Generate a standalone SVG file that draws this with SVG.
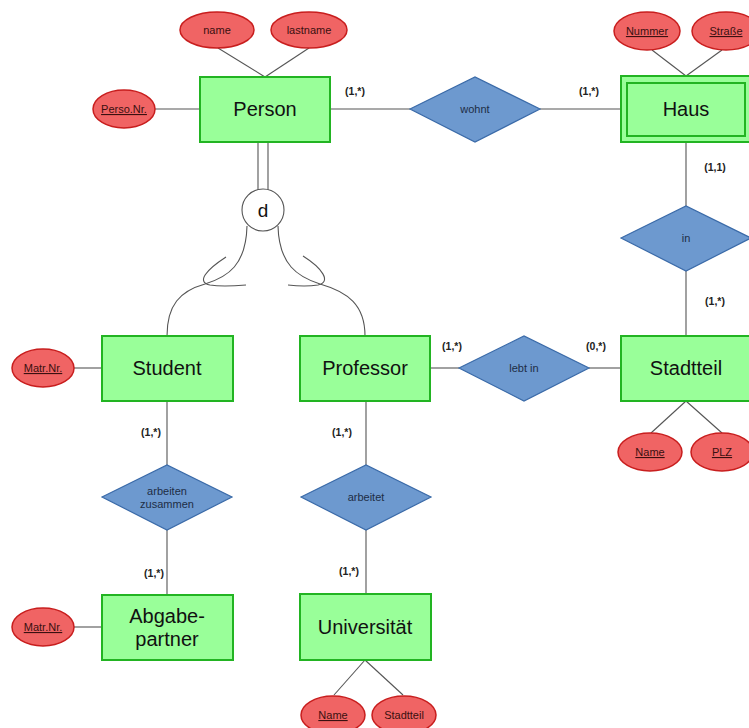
<svg xmlns="http://www.w3.org/2000/svg" width="749" height="728" viewBox="0 0 749 728">
<style>
.ent{fill:#99ff99;stroke:#22b422;stroke-width:2}
.att{fill:#f06464;stroke:#c81e1e;stroke-width:1.5}
.rel{fill:#6d99cf;stroke:#3a6aa8;stroke-width:1.2}
.ln{stroke:#555;stroke-width:1.1;fill:none}
.et{font-family:"Liberation Sans",Arial,sans-serif;font-size:20px;fill:#111;text-anchor:middle}
.at{font-family:"Liberation Sans",Arial,sans-serif;font-size:11px;fill:#3a1010;text-anchor:middle}
.u{text-decoration:underline}
.rt{font-family:"Liberation Sans",Arial,sans-serif;font-size:11px;fill:#1d2d45;text-anchor:middle}
.card{font-family:"Liberation Sans",Arial,sans-serif;font-size:10.5px;font-weight:bold;fill:#222;text-anchor:middle}
</style>
<rect width="749" height="728" fill="#fff"/>
<g id="connectors">
<line class="ln" x1="218" y1="48" x2="265" y2="77"/>
<line class="ln" x1="309" y1="48" x2="265" y2="77"/>
<line class="ln" x1="155" y1="109" x2="200" y2="109"/>
<line class="ln" x1="330" y1="109" x2="410" y2="109"/>
<line class="ln" x1="540" y1="109" x2="621" y2="109"/>
<line class="ln" x1="652" y1="50" x2="686" y2="76"/>
<line class="ln" x1="722" y1="50" x2="686" y2="76"/>
<line class="ln" x1="686" y1="142" x2="686" y2="206"/>
<line class="ln" x1="686" y1="271" x2="686" y2="336"/>
<line class="ln" x1="686" y1="401" x2="651" y2="433"/>
<line class="ln" x1="686" y1="401" x2="722" y2="433"/>
<line class="ln" x1="430" y1="368" x2="459" y2="368"/>
<line class="ln" x1="589" y1="368" x2="621" y2="368"/>
<line class="ln" x1="74" y1="368" x2="102" y2="368"/>
<line class="ln" x1="167" y1="401" x2="167" y2="465"/>
<line class="ln" x1="167" y1="530" x2="167" y2="595"/>
<line class="ln" x1="74" y1="627" x2="102" y2="627"/>
<line class="ln" x1="366" y1="401" x2="366" y2="465"/>
<line class="ln" x1="366" y1="530" x2="366" y2="594"/>
<line class="ln" x1="365" y1="660" x2="334" y2="695"/>
<line class="ln" x1="365" y1="660" x2="403" y2="695"/>
<line class="ln" x1="258" y1="142" x2="258" y2="191"/>
<line class="ln" x1="268" y1="142" x2="268" y2="191"/>
<path class="ln" d="M247,226 C246,265 228,277 205,284 C180,291 167,305 167,336"/>
<path class="ln" d="M278,226 C279,265 298,277 320,284 C348,292 365,305 365,336"/>
<path class="ln" d="M226,257 C206,270 196,282 210,285 C222,287 234,286 246,285"/>
<path class="ln" d="M303,256 C322,268 332,282 318,285 C306,287 296,286 288,285"/>
</g>
<g id="person"><rect class="ent" x="200" y="77" width="130" height="65"/><text class="et" x="265" y="116">Person</text></g>
<g id="attr-name"><ellipse class="att" cx="217" cy="30" rx="37" ry="18"/><text class="at" x="217" y="34">name</text></g>
<g id="attr-lastname"><ellipse class="att" cx="309" cy="30" rx="38" ry="18"/><text class="at" x="309" y="34">lastname</text></g>
<g id="attr-persnr"><ellipse class="att" cx="124" cy="109" rx="31" ry="19"/><text class="at u" x="124" y="113">Perso.Nr.</text></g>
<g id="card-1"><text class="card" x="355" y="95">(1,*)</text></g>
<g id="wohnt"><polygon class="rel" points="410,109 475,77 540,109 475,142"/><text class="rt" x="475" y="113">wohnt</text></g>
<g id="card-2"><text class="card" x="589" y="95">(1,*)</text></g>
<g id="haus"><rect class="ent" x="621" y="76" width="130" height="66"/><rect class="ent" x="627" y="83" width="118" height="53"/><text class="et" x="686" y="116">Haus</text></g>
<g id="attr-nummer"><ellipse class="att" cx="647" cy="31" rx="33" ry="19"/><text class="at u" x="647" y="35">Nummer</text></g>
<g id="attr-strasse"><ellipse class="att" cx="726" cy="31" rx="34" ry="19"/><text class="at u" x="726" y="35">Straße</text></g>
<g id="card-3"><text class="card" x="715" y="171">(1,1)</text></g>
<g id="in"><polygon class="rel" points="621,238 686,206 751,238 686,271"/><text class="rt" x="686" y="242">in</text></g>
<g id="card-4"><text class="card" x="715" y="305">(1,*)</text></g>
<g id="stadtteil"><rect class="ent" x="621" y="336" width="130" height="65"/><text class="et" x="686" y="375">Stadtteil</text></g>
<g id="attr-st-name"><ellipse class="att" cx="650" cy="452" rx="32" ry="19"/><text class="at u" x="650" y="456">Name</text></g>
<g id="attr-plz"><ellipse class="att" cx="722" cy="452" rx="31" ry="19"/><text class="at u" x="722" y="456">PLZ</text></g>
<g id="lebtin"><polygon class="rel" points="459,368 524,336 589,368 524,401"/><text class="rt" x="524" y="372">lebt in</text></g>
<g id="card-5"><text class="card" x="452" y="350">(1,*)</text></g>
<g id="card-6"><text class="card" x="596" y="350">(0,*)</text></g>
<g id="d"><circle cx="263" cy="210" r="21" fill="#fff" stroke="#555" stroke-width="1.1"/><text class="et" x="263" y="217" style="font-size:19px">d</text></g>
<g id="student"><rect class="ent" x="102" y="336" width="131" height="65"/><text class="et" x="167" y="375">Student</text></g>
<g id="attr-matr1"><ellipse class="att" cx="43" cy="368" rx="31" ry="19"/><text class="at u" x="43" y="372">Matr.Nr.</text></g>
<g id="card-7"><text class="card" x="151" y="436">(1,*)</text></g>
<g id="arbeiten"><polygon class="rel" points="102,497 167,465 232,497 167,530"/><text class="rt" x="167" y="495">arbeiten</text><text class="rt" x="167" y="508">zusammen</text></g>
<g id="card-8"><text class="card" x="154" y="577">(1,*)</text></g>
<g id="abgabe"><rect class="ent" x="102" y="595" width="131" height="65"/><text class="et" x="167" y="623">Abgabe-</text><text class="et" x="167" y="646">partner</text></g>
<g id="attr-matr2"><ellipse class="att" cx="43" cy="627" rx="31" ry="19"/><text class="at u" x="43" y="631">Matr.Nr.</text></g>
<g id="professor"><rect class="ent" x="300" y="336" width="130" height="65"/><text class="et" x="365" y="375">Professor</text></g>
<g id="card-9"><text class="card" x="342" y="436">(1,*)</text></g>
<g id="arbeitet"><polygon class="rel" points="301,497 366,465 431,497 366,530"/><text class="rt" x="366" y="501">arbeitet</text></g>
<g id="card-10"><text class="card" x="349" y="575">(1,*)</text></g>
<g id="uni"><rect class="ent" x="300" y="594" width="131" height="66"/><text class="et" x="365" y="634">Universität</text></g>
<g id="attr-uni-name"><ellipse class="att" cx="333" cy="715" rx="32" ry="19"/><text class="at u" x="333" y="719">Name</text></g>
<g id="attr-uni-st"><ellipse class="att" cx="404" cy="715" rx="32" ry="19"/><text class="at" x="404" y="719">Stadtteil</text></g>
</svg>
